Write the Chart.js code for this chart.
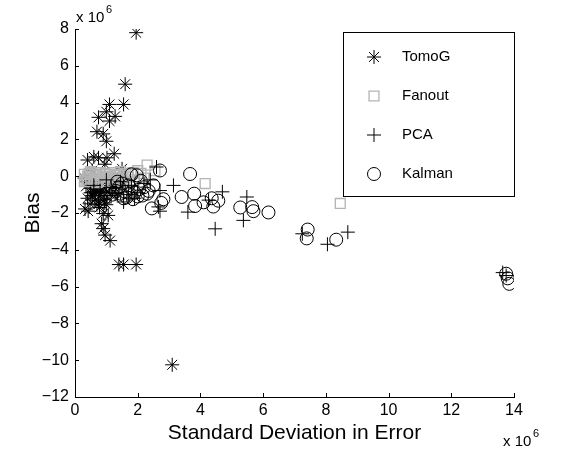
<!DOCTYPE html>
<html>
<head>
<meta charset="utf-8">
<script src="https://cdn.jsdelivr.net/npm/chart.js@4/dist/chart.umd.min.js"></script>
<style>
  html, body { margin: 0; padding: 0; background: #fff; }
  #wrap { width: 563px; height: 454px; }
</style>
</head>
<body>
<div id="wrap"><canvas id="chart" width="563" height="454"></canvas></div>
<script>
// values are in units of 1e6 (as the axis multipliers say)
const tomogX = [1.95, 1.6, 1.55, 1.1, 1.0, 1.28, 0.75, 1.1, 0.7, 0.9, 1.0, 1.25, 0.6, 0.75, 1.02, 0.4, 0.95, 1.5, 0.55,
  0.3, 0.45, 0.6, 0.8, 1.0, 1.2, 0.7, 0.9, 0.5, 1.1, 1.35, 1.5, 0.55, 0.8, 0.64, 0.48, 0.32, 0.42, 0.7, 0.95,
  0.9, 1.06, 0.85, 0.9, 0.96, 1.12, 1.4, 1.55, 1.95, 3.1,
  0.35, 0.65, 0.85, 1.05, 1.25, 0.4, 0.75, 1.15, 0.6, 0.95, 1.3, 0.5, 0.78, 1.0];
const tomogY = [7.8, 5.0, 3.9, 3.9, 3.5, 3.25, 3.2, 3.0, 2.42, 2.3, 1.9, 1.22, 1.05, 1.0, 1.0, 0.88, 0.65, 0.4, 0.3,
  -0.1, -0.3, -0.5, -0.4, -0.6, -0.7, -0.75, -0.9, -0.65, -0.35, -0.95, -0.5, -1.05, -1.05, -1.3, -1.5, -1.78, -1.9, -1.55, -1.25,
  -2.03, -2.13, -2.58, -2.85, -3.2, -3.5, -4.8, -4.8, -4.8, -10.25,
  -0.55, -0.95, -0.7, -0.85, -0.45, -1.2, -1.35, -1.05, -0.85, -1.45, -0.6, -0.9, -1.7, -1.55];

const fanoutX = [0.3, 0.35, 0.45, 0.5, 0.55, 0.6, 0.7, 0.75, 0.8, 0.9, 0.95, 1.0, 1.1, 1.15, 1.25, 1.3, 1.4, 1.5,
  1.6, 1.7, 1.8, 1.9, 2.0, 2.2, 2.3, 2.55, 1.65, 1.3, 0.4, 0.65, 1.05, 1.35, 1.55, 1.2, 4.15, 8.46,
  0.3, 0.5, 0.85, 1.2, 1.45, 1.75, 0.4, 0.7, 1.0, 1.25, 1.85, 2.1];
const fanoutY = [0.1, -0.2, 0.15, -0.1, 0.2, -0.25, 0.05, -0.15, 0.2, -0.05, 0.15, -0.3, 0.1, -0.1, 0.2, -0.2, 0.05, -0.15,
  0.15, -0.05, 0.1, -0.2, 0.3, -0.1, 0.6, 0.3, -0.9, -0.6, 0.0, 0.1, 0.0, 0.1, -0.35, -0.45, -0.4, -1.48,
  -0.3, 0.25, -0.3, -0.2, 0.25, -0.3, -0.15, -0.35, 0.1, -0.05, 0.2, 0.15];

const pcaX = [0.6, 1.0, 1.3, 1.55, 1.8, 2.0, 2.2, 2.6, 2.71, 3.14, 2.66, 2.71, 3.6, 4.26, 4.7, 4.47, 5.48, 5.37,
  7.25, 8.05, 8.7, 13.64, 13.75, 0.8, 1.15, 1.45, 1.7, 2.4, 1.9];
const pcaY = [-0.5, -0.2, -0.9, -1.4, -0.5, -0.9, -0.4, 0.5, -0.78, -0.5, -1.67, -1.9, -1.95, -1.3, -0.85, -2.86, -1.13, -2.4,
  -3.13, -3.7, -3.04, -5.24, -5.4, -0.8, -0.6, -0.3, -1.0, -0.2, -1.2];

const kalmanX = [1.3, 1.45, 1.6, 1.75, 1.9, 2.05, 2.2, 2.35, 2.1, 1.8, 1.97, 1.5, 1.7, 2.3, 2.0, 1.65, 1.4,
  2.71, 3.67, 2.45, 2.82, 2.75, 3.4, 3.8, 3.83, 4.1, 4.36, 4.41, 4.57, 5.27, 5.65, 5.69, 6.17,
  7.42, 7.39, 8.33, 13.75, 13.8, 13.85, 1.2, 1.55, 1.85, 2.15, 2.5, 1.35, 1.0];
const kalmanY = [-0.8, -0.95, -0.85, -0.95, -0.9, -0.7, -0.6, -0.8, -0.25, 0.1, 0.05, -0.4, -0.5, -0.95, -1.1, -1.15, -0.6,
  0.31, 0.12, -1.75, -1.25, -1.45, -1.13, -0.95, -1.62, -1.42, -1.2, -1.65, -1.33, -1.7, -1.68, -1.9, -1.97,
  -2.9, -3.38, -3.45, -5.3, -5.55, -5.85, -1.0, -1.2, -1.25, -1.05, -0.5, -0.3, -0.95];

const xTicks = [0, 2, 4, 6, 8, 10, 12, 14];
const yTicks = [-12, -10, -8, -6, -4, -2, 0, 2, 4, 6, 8];
const seriesNames = ["TomoG", "Fanout", "PCA", "Kalman"];

const FONT = "'Liberation Sans', Arial, Helvetica, sans-serif";
const pts = (xs, ys) => xs.map((x, i) => ({ x: x, y: ys[i] }));
const fmt = (v) => (v < 0 ? "\u2212" + Math.abs(v) : String(v));

const styles = [
  { pointStyle: "star", radius: 7, color: "#000", width: 1 },
  { pointStyle: "rect", radius: 7, color: "#b4b4b4", width: 1.3 },
  { pointStyle: "cross", radius: 7, color: "#000", width: 1 },
  { pointStyle: "circle", radius: 6.5, color: "#000", width: 1 },
];
const series = [pts(tomogX, tomogY), pts(fanoutX, fanoutY), pts(pcaX, pcaY), pts(kalmanX, kalmanY)];

// later series sit on top, like the original plot order
const datasets = series.map((data, i) => ({
  label: seriesNames[i],
  data: data,
  order: series.length - i,
  pointStyle: styles[i].pointStyle,
  pointRadius: styles[i].radius,
  pointHoverRadius: styles[i].radius,
  pointBorderColor: styles[i].color,
  pointBackgroundColor: "rgba(0,0,0,0)",
  pointBorderWidth: styles[i].width,
  showLine: false,
}));

/* ---------- inward ticks, multipliers, legend box ---------- */
const matlabBits = {
  id: "matlabBits",
  afterDatasetsDraw(chart) {
    const { ctx, chartArea: a, scales } = chart;
    ctx.save();
    ctx.strokeStyle = "#000";
    ctx.lineWidth = 1;
    ctx.beginPath();
    xTicks.forEach((v) => {
      const px = Math.round(scales.x.getPixelForValue(v)) + 0.5;
      ctx.moveTo(px, a.bottom);
      ctx.lineTo(px, a.bottom - 4);
    });
    yTicks.forEach((v) => {
      const py = Math.round(scales.y.getPixelForValue(v)) + 0.5;
      ctx.moveTo(a.left, py);
      ctx.lineTo(a.left + 4, py);
    });
    ctx.stroke();

    // x 10^6 multipliers
    ctx.fillStyle = "#000";
    ctx.textBaseline = "alphabetic";
    ctx.textAlign = "left";
    ctx.font = "15px " + FONT;
    ctx.fillText("x 10", a.left + 1, a.top - 7);
    ctx.fillText("x 10", a.right - 11, 446);
    ctx.font = "11px " + FONT;
    ctx.fillText("6", a.left + 31, a.top - 16);
    ctx.fillText("6", a.right + 19, 437);

    // legend
    const box = { l: 343, t: 32, r: 514, b: 196 };
    ctx.fillStyle = "#fff";
    ctx.fillRect(box.l, box.t, box.r - box.l, box.b - box.t);
    ctx.lineWidth = 1;
    ctx.strokeRect(box.l + 0.5, box.t + 0.5, box.r - box.l, box.b - box.t);
    const rowY = [57, 96, 135, 174];
    seriesNames.forEach((name, i) => {
      const st = styles[i];
      ctx.strokeStyle = st.color;
      ctx.fillStyle = "rgba(0,0,0,0)";
      ctx.lineWidth = st.width;
      Chart.helpers.drawPoint(ctx, { pointStyle: st.pointStyle, radius: st.radius, rotation: 0, borderWidth: st.width }, 374, rowY[i]);
      ctx.fillStyle = "#000";
      ctx.font = "15px " + FONT;
      ctx.textBaseline = "middle";
      ctx.fillText(name, 402, rowY[i]);
    });
    ctx.restore();
  },
};

new Chart(document.getElementById("chart"), {
  type: "scatter",
  data: { datasets: datasets },
  options: {
    responsive: false,
    animation: false,
    events: [],
    layout: { padding: { left: 17, right: 49, top: 29, bottom: 4 } },
    plugins: { legend: { display: false }, tooltip: { enabled: false } },
    scales: {
      x: {
        type: "linear",
        min: 0,
        max: 14,
        afterBuildTicks: (s) => { s.ticks = xTicks.map((v) => ({ value: v })); },
        afterFit: (s) => { s.height = 53; },
        grid: { display: false, drawTicks: false },
        border: { display: true, color: "#000", width: 1 },
        ticks: { color: "#000", padding: 4, font: { family: FONT, size: 16 }, callback: (v) => fmt(v), maxRotation: 0 },
        title: { display: true, text: "Standard Deviation in Error", color: "#000", font: { family: FONT, size: 21 } },
      },
      y: {
        type: "linear",
        min: -12,
        max: 8,
        afterBuildTicks: (s) => { s.ticks = yTicks.map((v) => ({ value: v })); },
        afterFit: (s) => { s.width = 58; },
        grid: { display: false, drawTicks: false },
        border: { display: true, color: "#000", width: 1 },
        ticks: { color: "#000", padding: 6, font: { family: FONT, size: 16 }, callback: (v) => fmt(v) },
        title: { display: true, text: "Bias", color: "#000", font: { family: FONT, size: 21 } },
      },
    },
  },
  plugins: [matlabBits],
});
</script>
</body>
</html>
